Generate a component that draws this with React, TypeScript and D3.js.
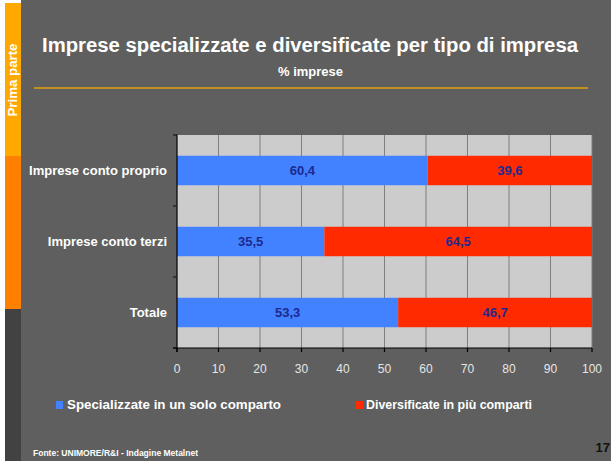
import React from "react";
import * as d3 from "d3";

const categories = ["Imprese conto proprio", "Imprese conto terzi", "Totale"];
const specializzate = [60.4, 35.5, 53.3];
const diversificate = [39.6, 64.5, 46.7];
const xTicks = [0, 10, 20, 30, 40, 50, 60, 70, 80, 90, 100];
const seriesNames = ["Specializzate in un solo comparto", "Diversificate in più comparti"];
const title = "Imprese specializzate e diversificate per tipo di impresa";
const subtitle = "% imprese";
const source = "Fonte: UNIMORE/R&I - Indagine Metalnet";
const pageNo = "17";
const sideLabel = "Prima parte";

const W = 611;
const H = 463;
const FONT = "'Liberation Sans', Arial, Helvetica, sans-serif";
const BLUE = "#4281FF";
const RED = "#FF2A00";
const LABEL = "#1C2A8E";

const it = d3.formatLocale({ decimal: ",", thousands: ".", grouping: [3], currency: ["€", ""] });
const fmt = it.format(".1f");

export default function App() {
  const x = d3.scaleLinear().domain([0, 100]).range([177, 592]);
  const y = d3
    .scaleBand<string>()
    .domain(categories)
    .range([135, 348])
    .paddingInner(0.585)
    .paddingOuter(0.2925);
  const step = y.step();
  const [y0, y1] = y.range();
  const bw = y.bandwidth();

  const stacked = categories.map((c, i) => ({
    cat: c,
    segs: [
      { x0: 0, x1: specializzate[i], v: specializzate[i], color: BLUE },
      { x0: specializzate[i], x1: specializzate[i] + diversificate[i], v: diversificate[i], color: RED },
    ],
  }));

  const boundaries = d3.range(categories.length + 1).map((i) => y0 + i * step);

  return (
    <svg
      width={W}
      height={H}
      style={{ position: "absolute", left: 0, top: 0, display: "block" }}
      fontFamily={FONT}
    >
      <rect x={0} y={0} width={W} height={H} fill="#ffffff" />
      <rect x={21} y={0} width={W - 21} height={461} fill="#5E5F5E" />
      {/* side strip */}
      <rect x={5} y={3} width={16} height={153} fill="#FFA800" />
      <rect x={5} y={156} width={16} height={153} fill="#FF7F00" />
      <rect x={5} y={309} width={16} height={152} fill="#424242" />
      <text
        transform="translate(17,80) rotate(-90)"
        textAnchor="middle"
        fill="#ffffff"
        fontWeight="bold"
        fontSize={12}
        textLength={73}
        lengthAdjust="spacingAndGlyphs"
      >
        {sideLabel}
      </text>

      {/* titles */}
      <text
        x={310}
        y={52}
        textAnchor="middle"
        fill="#ffffff"
        fontWeight="bold"
        fontSize={20}
        textLength={536}
        lengthAdjust="spacingAndGlyphs"
      >
        {title}
      </text>
      <text x={310.5} y={76} textAnchor="middle" fill="#ffffff" fontWeight="bold" fontSize={13}>
        {subtitle}
      </text>
      <line x1={34} x2={588} y1={88} y2={88} stroke="#E3A008" strokeWidth={1.5} />

      {/* plot background */}
      <rect x={x(0)} y={y0} width={x(100) - x(0)} height={y1 - y0} fill="#CCCCCC" />
      {xTicks.filter((t) => t > 0).map((t) => (
        <line key={"g" + t} x1={x(t)} x2={x(t)} y1={y0} y2={y1} stroke="#7F7F7F" strokeWidth={1} />
      ))}

      {/* bars */}
      {stacked.map((row) =>
        row.segs.map((s, j) => (
          <g key={row.cat + j}>
            <rect x={x(s.x0)} y={y(row.cat)} width={x(s.x1) - x(s.x0)} height={bw} fill={s.color} />
            <text
              x={(x(s.x0) + x(s.x1)) / 2}
              y={(y(row.cat) as number) + bw / 2}
              dy="0.36em"
              textAnchor="middle"
              fill={LABEL}
              fontWeight="bold"
              fontSize={13}
            >
              {fmt(s.v)}
            </text>
          </g>
        ))
      )}

      {/* axes */}
      <line x1={x(0)} x2={x(0)} y1={y0 - 0.5} y2={y1 + 4} stroke="#000" strokeWidth={1.2} />
      {boundaries.map((b, i) => (
        <line key={"yt" + i} x1={x(0) - 4} x2={x(0)} y1={b} y2={b} stroke="#1a1a1a" strokeWidth={1.2} />
      ))}
      <line x1={x(0) - 4} x2={x(100)} y1={y1} y2={y1} stroke="#000" strokeWidth={1.2} />
      {xTicks.map((t) => (
        <g key={"xt" + t}>
          <line x1={x(t)} x2={x(t)} y1={y1} y2={y1 + 4} stroke="#000" strokeWidth={1.2} />
          <text x={x(t)} y={373} textAnchor="middle" fill="#E6E6E6" fontSize={12}>
            {t}
          </text>
        </g>
      ))}

      {categories.map((c) => (
        <text
          key={"c" + c}
          x={167}
          y={(y(c) as number) + bw / 2}
          dy="0.36em"
          textAnchor="end"
          fill="#ffffff"
          fontWeight="bold"
          fontSize={13}
        >
          {c}
        </text>
      ))}

      {/* legend */}
      <rect x={56} y={401} width={7} height={8} fill={BLUE} />
      <text x={67} y={409} fill="#ffffff" fontWeight="bold" fontSize={13} textLength={214} lengthAdjust="spacingAndGlyphs">
        {seriesNames[0]}
      </text>
      <rect x={356} y={401} width={7} height={8} fill={RED} />
      <text x={366} y={409} fill="#ffffff" fontWeight="bold" fontSize={13} textLength={166} lengthAdjust="spacingAndGlyphs">
        {seriesNames[1]}
      </text>

      {/* footer */}
      <text x={33} y={456} fill="#ffffff" fontWeight="bold" fontSize={9} textLength={165} lengthAdjust="spacingAndGlyphs">
        {source}
      </text>
      <text x={610} y={452} textAnchor="end" fill="#111111" fontWeight="bold" fontSize={13}>
        {pageNo}
      </text>
    </svg>
  );
}
